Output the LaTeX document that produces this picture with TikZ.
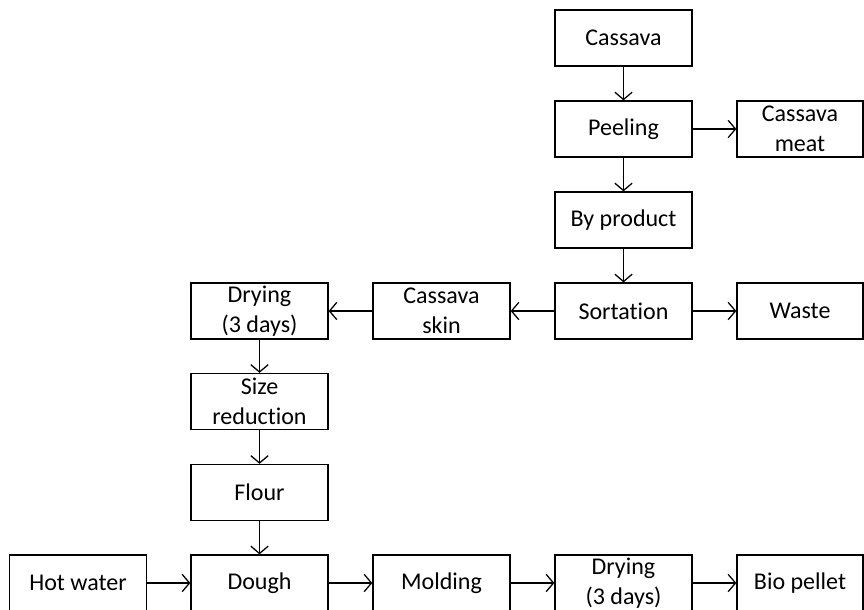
\documentclass[tikz,border=0pt]{standalone}
\usepackage{fontspec}
\setmainfont[Ligatures=NoCommon]{Carlito}
\usetikzlibrary{positioning,arrows.meta}
\tikzset{
  stage/.style={rectangle,draw,line width=1.1pt,minimum width=4.11cm,minimum height=1.68cm,
                inner sep=0,align=center,font=\fontsize{20.5}{26}\selectfont},
  endstage/.style={stage,minimum width=3.78cm},
  flow/.style={-{Straight Barb[length=2.2mm,width=5.2mm,line width=1.1pt]},line width=1.1pt},
}

\begin{document}
\begin{tikzpicture}[x=0.03cm,y=-0.03cm]
  \useasboundingbox (0,0) rectangle (864,609);
  % main line from the root down to sorting
  \node[stage] (cassava) at (623.5,38) {Cassava};
  \node[stage] (peeling) at (623.5,129) {Peeling};
  \node[endstage] (meat) at (800,129) {Cassava\\meat};
  \node[stage] (byprod) at (623.5,220) {By product};
  \node[stage] (sort) at (623.5,311) {Sortation};
  \node[endstage] (waste) at (800,311) {Waste};
  % the skins go to the left and down
  \node[stage] (skin) at (441.5,311) {Cassava\\skin};
  \node[stage] (dryskin) at (259.5,311) {Drying\\(3 days)};
  \node[stage] (size) at (259.5,401.5) {Size\\reduction};
  \node[stage] (flour) at (259.5,492.5) {Flour};
  % pellet line along the bottom
  \node[stage] (water) at (78,583) {Hot water};
  \node[stage] (dough) at (259.5,583) {Dough};
  \node[stage] (mold) at (441.5,583) {Molding};
  \node[stage] (drypellet) at (623.5,583) {Drying\\(3 days)};
  \node[endstage] (pellet) at (800,583) {Bio pellet};

  \draw[flow] (cassava) -- (peeling);
  \draw[flow] (peeling) -- (meat);
  \draw[flow] (peeling) -- (byprod);
  \draw[flow] (byprod) -- (sort);
  \draw[flow] (sort) -- (waste);
  \draw[flow] (sort) -- (skin);
  \draw[flow] (skin) -- (dryskin);
  \draw[flow] (dryskin) -- (size);
  \draw[flow] (size) -- (flour);
  \draw[flow] (flour) -- (dough);
  \draw[flow] (water) -- (dough);
  \draw[flow] (dough) -- (mold);
  \draw[flow] (mold) -- (drypellet);
  \draw[flow] (drypellet) -- (pellet);
\end{tikzpicture}
\end{document}
